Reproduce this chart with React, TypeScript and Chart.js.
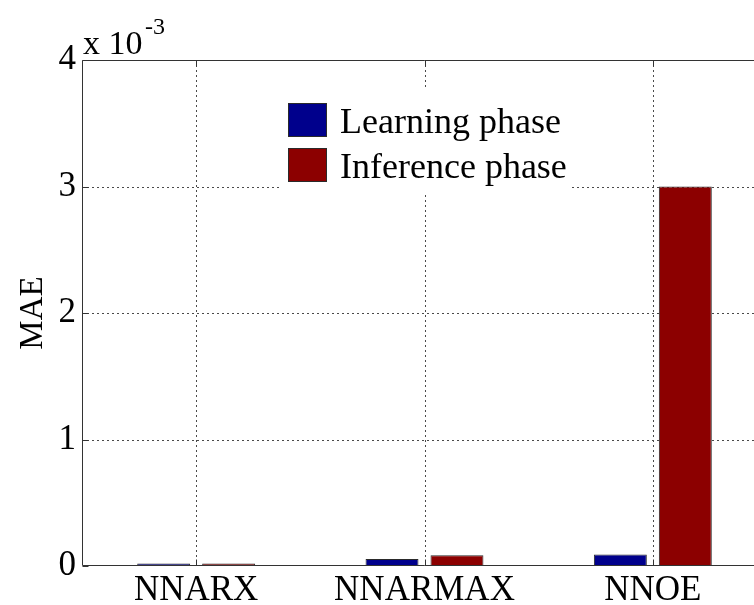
import React, { useEffect, useRef } from "react";
import { Chart, registerables } from "chart.js";

Chart.register(...registerables);

// Categories and mean absolute error per phase
const categories = ["NNARX", "NNARMAX", "NNOE"];
const learningMAE = [0.00002, 0.000055, 0.00009];
const inferenceMAE = [0.00002, 0.000085, 0.003];
const seriesLabels = ["Learning phase", "Inference phase"];
const yTickValues = [0, 1, 2, 3, 4]; // in units of 10^-3
const yExponent = -3;

const FONT = '"Liberation Serif", "Times New Roman", serif';
const BLUE = "rgb(0,0,140)";
const RED = "rgb(140,0,0)";
const EDGE = "#2a2a2a";

const CANVAS_W = 780;
const CANVAS_H = 605;

const framePlugin = {
  id: "matlabFrame",
  beforeDatasetsDraw(chart: any) {
    const { ctx, chartArea, scales } = chart;
    const { left, right, top, bottom } = chartArea;
    ctx.save();
    ctx.strokeStyle = "#4a4a4a";
    ctx.lineWidth = 1;
    ctx.setLineDash([2, 3]);
    // vertical grid at category centres
    categories.forEach((_, i) => {
      const x = Math.round(scales.x.getPixelForValue(i)) + 0.5;
      ctx.beginPath();
      ctx.moveTo(x, top);
      ctx.lineTo(x, bottom);
      ctx.stroke();
    });
    // horizontal grid at interior ticks
    yTickValues.slice(1, -1).forEach((v) => {
      const y = Math.round(scales.y.getPixelForValue(v * Math.pow(10, yExponent))) + 0.5;
      ctx.beginPath();
      ctx.moveTo(left, y);
      ctx.lineTo(right, y);
      ctx.stroke();
    });
    ctx.restore();
  },
  afterDatasetsDraw(chart: any) {
    const { ctx, chartArea, scales } = chart;
    const { left, right, top, bottom } = chartArea;
    ctx.save();
    ctx.strokeStyle = "#333";
    ctx.lineWidth = 1;
    ctx.setLineDash([]);
    const L = Math.round(left) + 0.5;
    const T = Math.round(top) + 0.5;
    const B = Math.round(bottom) - 0.5;
    ctx.beginPath();
    ctx.moveTo(L, T);
    ctx.lineTo(L, B);
    ctx.moveTo(L, T);
    ctx.lineTo(right, T);
    ctx.moveTo(L, B);
    ctx.lineTo(right, B);
    // inward tick marks
    const tl = 6;
    yTickValues.forEach((v) => {
      const y = Math.round(scales.y.getPixelForValue(v * Math.pow(10, yExponent))) + 0.5;
      ctx.moveTo(L, y);
      ctx.lineTo(L + tl, y);
    });
    categories.forEach((_, i) => {
      const x = Math.round(scales.x.getPixelForValue(i)) + 0.5;
      ctx.moveTo(x, T);
      ctx.lineTo(x, T + tl);
      ctx.moveTo(x, B);
      ctx.lineTo(x, B - tl);
    });
    ctx.stroke();
    ctx.restore();
  },
  afterDraw(chart: any) {
    const { ctx, chartArea } = chart;
    ctx.save();
    ctx.fillStyle = "#000";
    // exponent label
    ctx.textBaseline = "alphabetic";
    ctx.textAlign = "left";
    ctx.font = `34px ${FONT}`;
    ctx.fillText("x 10", chartArea.left + 1, 54);
    ctx.font = `24px ${FONT}`;
    ctx.fillText(String(yExponent), 145, 34);

    // y-axis title
    ctx.save();
    ctx.translate(33, (chartArea.top + chartArea.bottom) / 2);
    ctx.rotate(-Math.PI / 2);
    ctx.textAlign = "center";
    ctx.textBaseline = "middle";
    ctx.font = `33px ${FONT}`;
    ctx.fillText("MAE", 0, 0);
    ctx.restore();

    // legend
    ctx.fillStyle = "#fff";
    ctx.fillRect(282, 88, 290, 104);
    const ds = chart.data.datasets;
    const rows = [103, 148];
    ds.forEach((d: any, i: number) => {
      const y = rows[i];
      ctx.fillStyle = d.backgroundColor;
      ctx.fillRect(288, y, 39, 34);
      ctx.strokeStyle = EDGE;
      ctx.lineWidth = 1;
      ctx.strokeRect(288.5, y + 0.5, 38, 33);
      ctx.fillStyle = "#000";
      ctx.font = `36px ${FONT}`;
      ctx.textAlign = "left";
      ctx.textBaseline = "alphabetic";
      ctx.fillText(d.label, 340, y + 30);
    });
    ctx.restore();
  },
};

export default function App() {
  const ref = useRef<HTMLCanvasElement | null>(null);

  useEffect(() => {
    if (!ref.current) return;
    const chart = new Chart(ref.current, {
      type: "bar",
      data: {
        labels: categories,
        datasets: [
          {
            label: seriesLabels[0],
            data: learningMAE,
            backgroundColor: BLUE,
            borderColor: EDGE,
            borderWidth: 1,
            borderSkipped: false,
            barPercentage: 0.815,
            categoryPercentage: 0.569,
          },
          {
            label: seriesLabels[1],
            data: inferenceMAE,
            backgroundColor: RED,
            borderColor: EDGE,
            borderWidth: 1,
            borderSkipped: false,
            barPercentage: 0.815,
            categoryPercentage: 0.569,
          },
        ],
      },
      options: {
        responsive: false,
        animation: false,
        layout: { padding: { left: 0, right: 13, top: 60, bottom: 0 } },
        plugins: { legend: { display: false }, tooltip: { enabled: false } },
        scales: {
          x: {
            grid: { display: false, drawTicks: false },
            border: { display: false },
            ticks: {
              color: "#000",
              font: { family: FONT, size: 35 },
              padding: 4,
              maxRotation: 0,
            },
            afterFit: (s: any) => {
              s.height = 39;
            },
          },
          y: {
            min: 0,
            max: 0.004,
            grid: { display: false, drawTicks: false },
            border: { display: false },
            afterBuildTicks: (s: any) => {
              s.ticks = yTickValues.map((v) => ({ value: v * Math.pow(10, yExponent) }));
            },
            ticks: {
              color: "#000",
              font: { family: FONT, size: 35 },
              padding: 6,
              callback: (v: any) => String(Math.round(Number(v) / Math.pow(10, yExponent))),
            },
            afterFit: (s: any) => {
              s.width = 82;
            },
          },
        },
      },
      plugins: [framePlugin],
    });
    return () => chart.destroy();
  }, []);

  return (
    <div
      style={{
        position: "absolute",
        left: 0,
        top: 0,
        width: 754,
        height: 605,
        overflow: "hidden",
        background: "#fff",
      }}
    >
      <canvas ref={ref} width={CANVAS_W} height={CANVAS_H} style={{ display: "block" }} />
    </div>
  );
}
